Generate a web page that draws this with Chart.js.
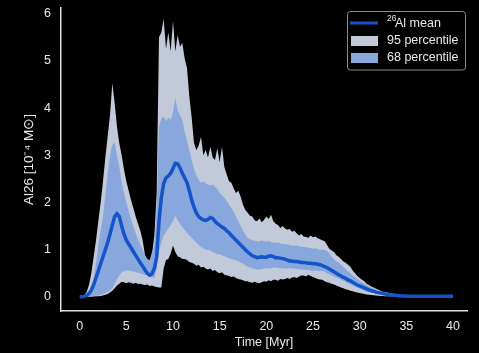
<!DOCTYPE html>
<html>
<head>
<meta charset="utf-8">
<script src="https://cdn.jsdelivr.net/npm/chart.js@4.4.1/dist/chart.umd.min.js"></script>
<style>
  html, body { margin: 0; padding: 0; background: #000; }
</style>
</head>
<body>
<canvas id="c" width="479" height="353"></canvas>
<script>
// time grid [Myr], 0.25 step
const times = [
  0, 0.25, 0.5, 0.75, 1, 1.25, 1.5, 1.75, 2, 2.25, 2.5, 2.75, 3, 3.25, 3.5, 3.75,
  4, 4.25, 4.5, 4.75, 5, 5.25, 5.5, 5.75, 6, 6.25, 6.5, 6.75, 7, 7.25, 7.5, 7.75,
  8, 8.25, 8.5, 8.75, 9, 9.25, 9.5, 9.75, 10, 10.25, 10.5, 10.75, 11, 11.25, 11.5, 11.75,
  12, 12.25, 12.5, 12.75, 13, 13.25, 13.5, 13.75, 14, 14.25, 14.5, 14.75, 15, 15.25, 15.5, 15.75,
  16, 16.25, 16.5, 16.75, 17, 17.25, 17.5, 17.75, 18, 18.25, 18.5, 18.75, 19, 19.25, 19.5, 19.75,
  20, 20.25, 20.5, 20.75, 21, 21.25, 21.5, 21.75, 22, 22.25, 22.5, 22.75, 23, 23.25, 23.5, 23.75,
  24, 24.25, 24.5, 24.75, 25, 25.25, 25.5, 25.75, 26, 26.25, 26.5, 26.75, 27, 27.25, 27.5, 27.75,
  28, 28.25, 28.5, 28.75, 29, 29.25, 29.5, 29.75, 30, 30.25, 30.5, 30.75, 31, 31.25, 31.5, 31.75,
  32, 32.25, 32.5, 32.75, 33, 33.25, 33.5, 33.75, 34, 34.25, 34.5, 34.75, 35, 35.25, 35.5, 35.75,
  36, 36.25, 36.5, 36.75, 37, 37.25, 37.5, 37.75, 38, 38.25, 38.5, 38.75, 39, 39.25, 39.5, 39.75,
  40
];

// 26Al mean [1e-4 Msun]
const meanAl = [
  0, 0, 0.01, 0.03, 0.07, 0.14, 0.26, 0.4, 0.55, 0.7, 0.85, 1.0, 1.15, 1.33, 1.52, 1.7,
  1.76, 1.7, 1.5, 1.33, 1.2, 1.12, 1.04, 0.96, 0.88, 0.8, 0.72, 0.65, 0.57, 0.5, 0.46, 0.49,
  0.6, 0.85, 1.6, 2.1, 2.4, 2.52, 2.56, 2.62, 2.72, 2.83, 2.82, 2.73, 2.62, 2.52, 2.42, 2.25,
  2.05, 1.9, 1.78, 1.7, 1.66, 1.63, 1.62, 1.64, 1.68, 1.66, 1.6, 1.55, 1.52, 1.48, 1.45, 1.4,
  1.36, 1.3, 1.25, 1.2, 1.15, 1.1, 1.05, 1.0, 0.95, 0.91, 0.87, 0.85, 0.83, 0.84, 0.85, 0.84,
  0.84, 0.86, 0.87, 0.85, 0.83, 0.83, 0.82, 0.81, 0.8, 0.78, 0.76, 0.76, 0.75, 0.75, 0.74, 0.73,
  0.73, 0.72, 0.71, 0.71, 0.7, 0.7, 0.69, 0.68, 0.66, 0.64, 0.62, 0.59, 0.56, 0.53, 0.5, 0.47,
  0.44, 0.41, 0.39, 0.36, 0.34, 0.31, 0.28, 0.25, 0.23, 0.21, 0.19, 0.17, 0.15, 0.13, 0.12, 0.1,
  0.09, 0.08, 0.07, 0.06, 0.05, 0.045, 0.04, 0.035, 0.03, 0.025, 0.02, 0.018, 0.015, 0.013, 0.012, 0.011,
  0.01, 0.01, 0.01, 0.01, 0.01, 0.01, 0.01, 0.01, 0.01, 0.01, 0.01, 0.01, 0.01, 0.01, 0.01, 0.01,
  0.01
];

// 68 percentile band
const upper68 = [
  0, 0, 0.02, 0.06, 0.12, 0.22, 0.4, 0.7, 1.1, 1.4, 1.7, 2.15, 2.6, 3.0, 3.22, 3.27,
  3.0, 2.75, 2.42, 2.2, 2.0, 1.82, 1.65, 1.5, 1.35, 1.22, 1.1, 0.99, 0.88, 0.8, 0.78, 0.95,
  1.1, 1.9, 3.6, 3.78, 3.82, 3.72, 3.8, 3.76, 3.9, 4.22, 3.95, 3.85, 3.75, 3.5, 3.3, 3.1,
  2.9, 2.72, 2.58, 2.48, 2.42, 2.45, 2.4, 2.38, 2.36, 2.38, 2.33, 2.28, 2.2, 2.15, 2.1, 2.03,
  1.95, 1.88, 1.8, 1.7, 1.6, 1.5, 1.4, 1.32, 1.25, 1.22, 1.2, 1.19, 1.18, 1.17, 1.2, 1.18,
  1.17, 1.19, 1.16, 1.15, 1.14, 1.15, 1.13, 1.12, 1.12, 1.11, 1.1, 1.09, 1.08, 1.09, 1.07, 1.06,
  1.06, 1.05, 1.04, 1.03, 1.02, 1.03, 1.01, 1.0, 1.0, 0.99, 0.97, 0.92, 0.85, 0.8, 0.75, 0.72,
  0.68, 0.63, 0.58, 0.54, 0.5, 0.46, 0.42, 0.38, 0.34, 0.31, 0.28, 0.25, 0.22, 0.2, 0.17, 0.15,
  0.13, 0.115, 0.1, 0.09, 0.08, 0.07, 0.06, 0.05, 0.04, 0.035, 0.03, 0.025, 0.02, 0.017, 0.015, 0.013,
  0.012, 0.011, 0.011, 0.01, 0.01, 0.01, 0.01, 0.01, 0.01, 0.01, 0.01, 0.01, 0.01, 0.01, 0.01, 0.01,
  0.01
];
const lower68 = [
  0, 0, 0, 0.005, 0.01, 0.015, 0.02, 0.025, 0.03, 0.04, 0.06, 0.08, 0.1, 0.13, 0.18, 0.28,
  0.38, 0.45, 0.52, 0.55, 0.56, 0.56, 0.55, 0.54, 0.52, 0.51, 0.5, 0.48, 0.47, 0.45, 0.42, 0.41,
  0.4, 0.6, 0.95, 1.15, 1.3, 1.38, 1.45, 1.52, 1.6, 1.72, 1.62, 1.55, 1.48, 1.42, 1.36, 1.3,
  1.25, 1.2, 1.15, 1.1, 1.06, 1.03, 1.0, 0.99, 0.98, 0.95, 0.93, 0.91, 0.9, 0.88, 0.86, 0.84,
  0.82, 0.8, 0.79, 0.77, 0.76, 0.73, 0.7, 0.67, 0.64, 0.62, 0.6, 0.59, 0.58, 0.58, 0.59, 0.6,
  0.6, 0.61, 0.6, 0.62, 0.62, 0.61, 0.61, 0.6, 0.6, 0.6, 0.61, 0.6, 0.6, 0.59, 0.59, 0.58,
  0.58, 0.57, 0.57, 0.56, 0.55, 0.56, 0.55, 0.55, 0.55, 0.53, 0.5, 0.48, 0.45, 0.43, 0.41, 0.39,
  0.37, 0.34, 0.32, 0.29, 0.27, 0.24, 0.22, 0.19, 0.17, 0.15, 0.13, 0.11, 0.1, 0.09, 0.08, 0.07,
  0.06, 0.05, 0.045, 0.04, 0.03, 0.027, 0.024, 0.021, 0.02, 0.017, 0.015, 0.013, 0.01, 0.01, 0.01, 0.01,
  0.008, 0.008, 0.008, 0.008, 0.008, 0.008, 0.008, 0.008, 0.008, 0.008, 0.008, 0.008, 0.008, 0.008, 0.008, 0.008,
  0.008
];

// 95 percentile band
const upper95 = [
  0, 0.01, 0.04, 0.1, 0.25, 0.5, 0.85, 1.2, 1.6, 2.0, 2.45, 2.95, 3.4, 3.85, 4.53, 4.1,
  3.6, 3.25, 3.0, 2.7, 2.45, 2.25, 2.05, 1.88, 1.7, 1.55, 1.4, 1.2, 0.88, 0.75, 0.72, 0.9,
  1.3, 2.2, 5.5, 5.6, 5.89, 5.25, 5.6, 5.2, 5.85, 5.2, 5.55, 5.3, 5.38, 5.05, 4.85, 4.24,
  3.8, 3.26, 3.11, 3.2, 3.39, 3.0, 3.11, 2.95, 3.18, 2.95, 2.9, 3.15, 2.85, 3.18, 2.75, 2.6,
  2.45, 2.42, 2.3, 2.2, 2.25, 2.12, 1.95, 1.84, 1.78, 1.72, 1.7, 1.62, 1.6, 1.66, 1.58, 1.63,
  1.7, 1.65, 1.74, 1.6, 1.55, 1.52, 1.46, 1.5, 1.45, 1.42, 1.44, 1.38, 1.4, 1.35, 1.3, 1.33,
  1.28, 1.27, 1.25, 1.3, 1.26, 1.28, 1.24, 1.22, 1.2, 1.18, 1.1, 1.02, 0.98, 0.95, 0.88, 0.85,
  0.8, 0.75, 0.72, 0.68, 0.64, 0.56, 0.5, 0.44, 0.4, 0.36, 0.33, 0.28, 0.25, 0.22, 0.2, 0.17,
  0.15, 0.13, 0.11, 0.1, 0.09, 0.08, 0.07, 0.06, 0.05, 0.045, 0.04, 0.035, 0.03, 0.025, 0.02, 0.018,
  0.015, 0.013, 0.012, 0.011, 0.01, 0.01, 0.01, 0.01, 0.01, 0.01, 0.01, 0.01, 0.01, 0.01, 0.01, 0.01,
  0.01
];
const lower95 = [
  0, 0, 0, 0, 0, 0.003, 0.006, 0.01, 0.015, 0.02, 0.03, 0.045, 0.06, 0.09, 0.13, 0.18,
  0.24, 0.28, 0.32, 0.31, 0.29, 0.31, 0.3, 0.28, 0.3, 0.27, 0.28, 0.26, 0.25, 0.26, 0.23, 0.24,
  0.22, 0.21, 0.2, 0.2, 0.6, 0.78, 0.8, 0.92, 1.08, 0.95, 0.86, 0.84, 0.8, 0.8, 0.78, 0.74,
  0.72, 0.7, 0.66, 0.68, 0.62, 0.64, 0.6, 0.58, 0.6, 0.55, 0.57, 0.52, 0.5, 0.52, 0.47, 0.46,
  0.44, 0.42, 0.43, 0.4, 0.38, 0.37, 0.35, 0.33, 0.33, 0.31, 0.3, 0.32, 0.3, 0.29, 0.31, 0.33,
  0.32, 0.35, 0.33, 0.36, 0.36, 0.34, 0.38, 0.37, 0.38, 0.4, 0.38, 0.41, 0.42, 0.4, 0.43, 0.45,
  0.45, 0.43, 0.47, 0.44, 0.42, 0.4, 0.38, 0.37, 0.36, 0.33, 0.31, 0.3, 0.28, 0.26, 0.24, 0.22,
  0.2, 0.18, 0.16, 0.15, 0.13, 0.12, 0.1, 0.09, 0.08, 0.07, 0.06, 0.05, 0.045, 0.04, 0.035, 0.03,
  0.025, 0.02, 0.018, 0.015, 0.012, 0.01, 0.008, 0.007, 0.005, 0.005, 0.005, 0.005, 0.005, 0.005, 0.005, 0.005,
  0.005, 0.005, 0.005, 0.005, 0.005, 0.005, 0.005, 0.005, 0.005, 0.005, 0.005, 0.005, 0.005, 0.005, 0.005, 0.005,
  0.005
];

const xTicks = [0, 5, 10, 15, 20, 25, 30, 35, 40];
const yTicks = [0, 1, 2, 3, 4, 5, 6];

const FONT = '"Liberation Sans", Arial, sans-serif';
const C_MEAN = '#1553c8';
const C_95 = '#c2c9d8';
const C_68 = '#87a7dd';
const C_TEXT = '#e8e8e8';

const pts = (arr) => times.map((t, i) => ({ x: t, y: arr[i] }));

// legend drawn inside the axes, top right
const legendBox = {
  id: 'legendBox',
  afterDraw(chart) {
    const ctx = chart.ctx;
    ctx.save();
    ctx.beginPath();
    ctx.roundRect(347.5, 11.5, 118, 58.5, 3);
    ctx.fillStyle = '#000';
    ctx.fill();
    ctx.strokeStyle = '#8a8a8a';
    ctx.lineWidth = 1;
    ctx.stroke();

    ctx.strokeStyle = C_MEAN;
    ctx.lineWidth = 3;
    ctx.beginPath();
    ctx.moveTo(350, 23);
    ctx.lineTo(378, 23);
    ctx.stroke();

    ctx.fillStyle = C_95;
    ctx.fillRect(351, 36, 27, 10);
    ctx.fillStyle = C_68;
    ctx.fillRect(351, 53, 27, 10);

    ctx.fillStyle = C_TEXT;
    ctx.textBaseline = 'middle';
    ctx.font = '8.5px ' + FONT;
    ctx.fillText('26', 387, 19);
    ctx.font = '12.5px ' + FONT;
    ctx.fillText('Al mean', 395, 24);
    ctx.fillText('95 percentile', 387, 41);
    ctx.fillText('68 percentile', 387, 58);
    ctx.restore();
  }
};

const band = (arr, color, fill, order) => ({
  data: pts(arr),
  borderWidth: 0,
  pointRadius: 0,
  backgroundColor: color,
  fill,
  order,
});

new Chart(document.getElementById('c'), {
  type: 'line',
  data: {
    datasets: [
      band(lower95, C_95, false, 5),
      band(upper95, C_95, 0, 4),
      band(lower68, C_68, false, 3),
      band(upper68, C_68, 2, 2),
      {
        label: '26Al mean',
        data: pts(meanAl),
        borderColor: C_MEAN,
        borderWidth: 3.5,
        pointRadius: 0,
        fill: false,
        tension: 0,
        order: 0,
      },
    ],
  },
  options: {
    responsive: false,
    animation: false,
    layout: { padding: { top: 8, right: 12, left: 0, bottom: 0 } },
    plugins: { legend: { display: false }, tooltip: { enabled: false } },
    scales: {
      x: {
        type: 'linear',
        min: -2,
        max: 41.5,
        grid: { display: false, drawTicks: false },
        border: { display: true, color: '#e0e0e0', width: 1.5 },
        ticks: { color: C_TEXT, font: { family: FONT, size: 12.5 }, padding: 8 },
        afterBuildTicks: (s) => { s.ticks = xTicks.map((v) => ({ value: v })); },
        afterFit: (s) => { s.height = 42; s.paddingLeft = 0; s.paddingRight = 0; },
        title: {
          display: true,
          text: 'Time [Myr]',
          color: C_TEXT,
          font: { family: FONT, size: 12.5 },
          padding: { top: 0, bottom: 3 },
        },
      },
      y: {
        type: 'linear',
        min: -0.3,
        max: 6.12,
        grid: { display: false, drawTicks: false },
        border: { display: true, color: '#e0e0e0', width: 1.5 },
        ticks: { color: C_TEXT, font: { family: FONT, size: 12.5 }, padding: 10 },
        afterBuildTicks: (s) => { s.ticks = yTicks.map((v) => ({ value: v })); },
        afterFit: (s) => { s.width = 61; s.paddingTop = 0; s.paddingBottom = 0; },
        title: {
          display: true,
          text: 'Al26 [10⁻⁴ M⊙]',
          color: C_TEXT,
          font: { family: FONT, size: 13.5 },
          padding: { top: 21, bottom: 0 },
        },
      },
    },
  },
  plugins: [legendBox],
});
</script>
</body>
</html>
